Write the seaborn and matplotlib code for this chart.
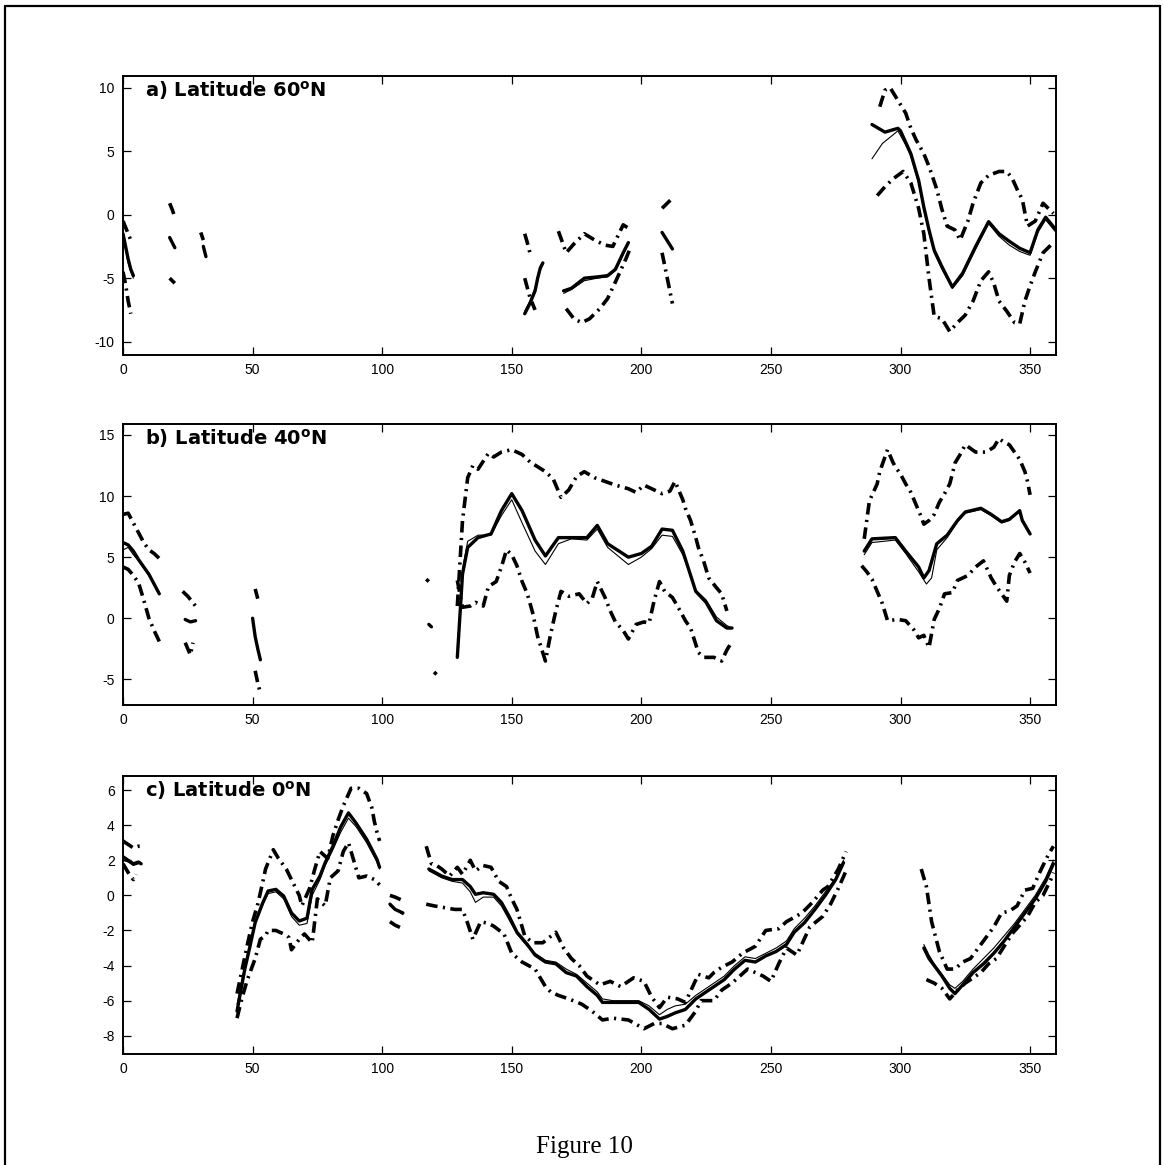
import numpy as np
import pandas as pd
import matplotlib
matplotlib.use("Agg")
import matplotlib.pyplot as plt
from matplotlib.lines import Line2D
import seaborn as sns

nan = np.nan

# ---------------- Panel a) 60N ----------------
A_MAIN_LON = [0, 1, 2, 3, 4, nan, 18, 20, nan, 31, 32, nan, 155, 157, 159, 160, 161, 162, nan,
              170, 173, 178, 183, 187, 190, 193, 195, nan, 208, 212, nan,
              289, 294, 299, 300, 304, 307, 309, 311, 313, 316, 320, 324, 329, 334, 338, 342, 346, 350, 353, 356, 360]
A_MAIN = [-1.5, -2.5, -3.5, -4.3, -4.8, nan, -1.8, -2.6, nan, -2.5, -3.3, nan, -7.8, -7.0, -6.0, -5.0, -4.2, -3.8, nan,
          -6.0, -5.8, -5.0, -4.9, -4.8, -4.3, -3.0, -2.2, nan, -1.4, -2.7, nan,
          7.1, 6.5, 6.8, 6.6, 4.8, 2.7, 0.6, -1.2, -2.8, -4.1, -5.7, -4.6, -2.5, -0.55, -1.5, -2.1, -2.65, -3.0, -1.2, -0.2, -1.2]
A_THIN_LON = [0, 1, 2, 3, 4, nan, 155, 157, 159, 161, 162, nan,
              170, 173, 178, 183, 187, 190, 193, 195, nan,
              289, 291, 293, 296, 299, 302, 304, 307, 309, 311, 313, 316, 320, 324, 329, 334, 338, 342, 346, 350, 353, 356, 360]
A_THIN = [-1.8, -2.8, -3.8, -4.5, -5.0, nan, -7.6, -6.8, -5.8, -4.4, -3.9, nan,
          -6.2, -5.9, -5.2, -5.0, -4.9, -4.4, -3.1, -2.3, nan,
          4.4, 5.0, 5.6, 6.1, 6.6, 5.5, 4.6, 2.5, 0.4, -1.4, -3.0, -4.3, -5.8, -4.8, -2.7, -0.7, -1.7, -2.4, -2.9, -3.2, -1.4, -0.4, -1.4]
A_UP_LON = [0, 1, 2, 3, nan, 18, 19, 20, nan, 30, 31, nan, 155, 156, 157, nan,
            168, 171, 174, 178, 182, 186, 189, 193, 196, nan, 208, 212, nan,
            292, 294, 296, 299, 302, 304, 306, 309, 311, 314, 316, 318, 321, 323, 326, 328, 331, 334, 338, 341, 343, 345, 347, 349, 352, 355, 359]
A_UP = [-0.5, -1.0, -1.5, -2.0, nan, 0.9, 0.4, -0.2, nan, -1.4, -2.0, nan, -1.5, -2.2, -3.0, nan,
        -1.3, -3.0, -2.3, -1.5, -2.0, -2.4, -2.5, -0.8, -1.2, nan, 0.5, 1.3, nan,
        8.5, 9.8, 10.0, 9.0, 8.0, 6.8, 5.9, 4.8, 3.8, 2.0, 0.4, -0.9, -1.2, -2.0, -0.5, 0.9, 2.5, 3.1, 3.4, 3.4, 2.9, 2.0, 1.2, -0.9, -0.5, 0.9, 0.1]
A_LO_LON = [0, 1, 2, 3, nan, 18, 20, nan, 155, 157, 159, nan,
            171, 174, 177, 180, 184, 187, 190, 194, 196, nan, 208, 212, nan,
            291, 294, 297, 301, 304, 307, 309, 311, 313, 316, 319, 322, 325, 328, 331, 334, 336, 338, 341, 344, 346, 348, 350, 352, 355, 359]
A_LO = [-4.5, -5.5, -6.8, -7.8, nan, -5.0, -5.4, nan, -5.0, -6.5, -7.5, nan,
        -7.4, -8.2, -8.5, -8.2, -7.4, -6.6, -5.3, -3.5, -2.5, nan, -3.0, -7.0, nan,
        1.5, 2.2, 2.8, 3.4, 2.5, 0.5, -1.5, -5.0, -8.0, -8.2, -9.2, -8.5, -7.9, -6.8, -5.2, -4.5, -5.4, -6.8, -7.6, -8.5, -8.6, -6.8, -5.6, -4.5, -3.0, -2.2]

# ---------------- Panel b) 40N ----------------
B_MAIN_LON = [0, 2, 4, 6, 8, 10, 12, 14, nan, 24, 26, 28, nan, 50, 51, 52, 53, nan, 118, 119, nan,
              129, 131, 133, 137, 142, 146, 150, 154, 159, 163, 168, 173, 179, 183, 187, 195, 200, 204, 208, 212, 216, 221, 225, 229, 233, 235, nan,
              286, 289, 298, 302, 307, 309, 311, 314, 318, 322, 325, 331, 335, 339, 342, 346, 347, 350]
B_MAIN = [6.2, 6.0, 5.5, 4.8, 4.2, 3.6, 2.8, 2.0, nan, -0.1, -0.3, -0.2, nan, 0.0, -1.5, -2.5, -3.4, nan, -0.5, -0.7, nan,
          -3.2, 3.6, 5.8, 6.6, 6.9, 8.8, 10.2, 8.8, 6.4, 5.1, 6.6, 6.6, 6.6, 7.6, 6.1, 5.0, 5.3, 5.9, 7.3, 7.2, 5.5, 2.2, 1.3, -0.2, -0.8, -0.8, nan,
          5.5, 6.5, 6.6, 5.5, 4.2, 3.3, 3.9, 6.1, 6.8, 8.0, 8.7, 9.0, 8.5, 7.9, 8.1, 8.8, 8.0, 6.9]
B_THIN_LON = [0, 2, 4, 6, 8, 10, 12, 14, nan,
              129, 131, 133, 137, 142, 146, 150, 154, 159, 163, 168, 173, 179, 183, 187, 195, 200, 204, 208, 212, 216, 221, 225, 229, 233, 235, nan,
              286, 289, 298, 302, 307, 310, 312, 314, 318, 322, 325, 331, 335, 339, 342, 346, 347, 350]
B_THIN = [5.6, 5.8, 5.2, 4.7, 4.1, 3.5, 2.8, 2.1, nan,
          -2.5, 4.0, 6.3, 6.8, 6.8, 8.4, 9.7, 7.8, 5.5, 4.4, 6.1, 6.5, 6.4, 7.3, 5.8, 4.4, 5.0, 5.7, 6.8, 6.7, 5.2, 2.3, 1.5, 0.1, -0.6, -0.8, nan,
          5.2, 6.2, 6.4, 5.3, 3.8, 2.8, 3.3, 5.6, 6.6, 7.9, 8.6, 8.9, 8.4, 7.8, 8.0, 8.9, 8.1, 7.0]
B_UP_LON = [0, 2, 4, 6, 8, 10, 12, 14, nan, 23, 25, 28, nan, 51, 52, nan, 117, 118, nan,
            129, 131, 133, 135, 137, 141, 143, 146, 150, 154, 157, 160, 163, 166, 169, 172, 175, 178, 182, 186, 190, 195, 198, 201, 205, 208, 211, 213, 216, 217, 219, 221, 222, 224, 226, 229, 231, 233, nan,
            286, 288, 291, 292, 295, 297, 298, 300, 302, 304, 306, 308, 309, 311, 313, 315, 317, 319, 320, 321, 323, 325, 327, 329, 331, 333, 336, 338, 340, 342, 344, 346, 348, 349, 350]
B_UP = [8.5, 8.6, 7.8, 7.0, 6.2, 5.6, 5.3, 4.9, nan, 2.2, 1.8, 1.0, nan, 2.4, 1.6, nan, 3.2, 3.0, nan,
        1.0, 8.0, 11.5, 12.5, 12.2, 13.5, 13.2, 13.6, 13.8, 13.4, 12.8, 12.4, 12.0, 11.4, 9.9, 10.5, 11.6, 12.0, 11.5, 11.2, 10.9, 10.6, 10.3, 10.9, 10.5, 10.2, 10.4, 11.2, 9.7, 9.0, 8.0, 6.6, 5.8, 4.7, 3.3, 2.5, 2.0, 0.6, nan,
        6.5, 9.6, 11.0, 12.0, 13.8, 12.8, 12.4, 11.8, 11.0, 10.3, 9.3, 8.3, 7.7, 8.0, 8.5, 9.5, 10.2, 11.0, 11.8, 12.7, 13.4, 14.2, 13.9, 13.6, 13.6, 13.6, 14.0, 14.7, 14.4, 14.2, 13.6, 13.0, 12.0, 11.2, 10.1]
B_LO_LON = [0, 2, 4, 6, 8, 10, 12, 14, nan, 24, 26, 27, nan, 51, 52, 53, nan, 120, 121, nan,
            129, 130, 131, 134, 136, 139, 141, 144, 146, 148, 150, 152, 154, 156, 158, 160, 163, 165, 167, 169, 172, 176, 179, 181, 183, 186, 188, 190, 193, 195, 198, 201, 203, 205, 207, 209, 212, 215, 217, 219, 222, 224, 228, 231, 233, 235, nan,
            285, 287, 289, 291, 293, 295, 299, 302, 305, 307, 309, 311, 313, 315, 317, 320, 322, 324, 326, 329, 332, 335, 337, 339, 341, 342, 344, 346, 348, 350]
B_LO = [4.2, 4.0, 3.5, 2.9, 1.5, 0.0, -1.0, -1.9, nan, -2.0, -3.0, -2.0, nan, -4.3, -5.3, -6.1, nan, -4.4, -4.6, nan,
        3.1, 2.0, 0.9, 1.0, 1.3, 1.0, 2.6, 3.0, 4.2, 5.6, 5.2, 4.3, 3.0, 2.0, 0.5, -1.5, -3.5, -1.3, 0.6, 2.2, 1.8, 2.0, 1.2, 1.6, 3.0, 1.7, 0.6, -0.3, -1.0, -1.7, -0.5, -0.3, -0.4, 1.5, 3.0, 2.2, 1.7, 0.6, -0.2, -0.8, -2.8, -3.2, -3.2, -3.5, -2.6, -1.9, nan,
        4.3, 3.8, 3.2, 2.2, 1.2, -0.2, -0.1, -0.2, -0.9, -1.6, -1.4, -2.4, -0.1, 0.8, 2.0, 2.1, 3.1, 3.3, 3.5, 4.2, 4.7, 3.3, 2.6, 2.0, 1.4, 3.5, 4.6, 5.3, 4.6, 3.7]

# ---------------- Panel c) 0N ----------------
C_MAIN_LON = [0, 2, 4, 6, 7, nan,
              44, 45, 47, 49, 51, 54, 56, 59, 62, 65, 68, 71, 73, 76, 78, 81, 84, 87, 90, 94, 98, 99, nan,
              103, 105, 108, nan,
              118, 123, 127, 131, 134, 136, 139, 143, 146, 149, 152, 156, 159, 163, 167, 171, 175, 179, 183, 185,
              189, 194, 199, 203, 207, 210, 213, 217, 221, 225, 228, 232, 236, 240, 244, 248, 252, 256, 259, 263, 267, 271, 275, 278, nan,
              309, 311, 313, 316, 319, 321, 324, 328, 332, 336, 340, 344, 348, 352, 356, 359]
C_MAIN = [2.2, 2.0, 1.8, 1.9, 1.8, nan,
          -6.6, -5.8, -4.2, -2.9, -1.55, -0.4, 0.25, 0.34, -0.04, -1.0, -1.46, -1.3, 0.34, 1.1, 1.86, 2.8, 3.9, 4.7, 4.1, 3.2, 2.05, 1.6, nan,
          -0.5, -0.8, -1.0, nan,
          1.5, 1.1, 0.9, 0.9, 0.5, 0.06, 0.15, 0.06, -0.4, -1.2, -2.1, -2.8, -3.4, -3.8, -3.9, -4.4, -4.6, -5.2, -5.7, -6.1,
          -6.1, -6.1, -6.1, -6.5, -7.05, -6.9, -6.7, -6.5, -5.9, -5.5, -5.2, -4.8, -4.2, -3.7, -3.8, -3.45, -3.2, -2.8, -2.1, -1.55, -0.8, 0.0, 0.9, 1.86, nan,
          -3.0, -3.6, -4.0, -4.6, -5.3, -5.6, -5.1, -4.4, -3.9, -3.3, -2.6, -1.8, -1.0, -0.2, 0.8, 1.8]
C_THIN_LON = C_MAIN_LON
C_THIN = [2.0, 1.9, 1.7, 1.8, 1.8, nan,
          -6.2, -5.5, -4.0, -2.8, -1.6, -0.5, 0.1, 0.2, -0.2, -1.2, -1.7, -1.6, 0.0, 0.9, 1.7, 2.6, 3.6, 4.4, 3.9, 3.0, 1.9, 1.5, nan,
          -0.6, -0.8, -1.1, nan,
          1.4, 1.0, 0.8, 0.7, 0.2, -0.4, -0.1, -0.1, -0.6, -1.4, -2.2, -2.9, -3.3, -3.7, -3.8, -4.2, -4.5, -5.0, -5.5, -5.9,
          -6.0, -6.0, -6.0, -6.3, -6.8, -6.5, -6.3, -6.2, -5.7, -5.3, -5.0, -4.6, -4.0, -3.5, -3.6, -3.3, -3.0, -2.6, -1.9, -1.3, -0.6, 0.2, 1.0, 2.0, nan,
          -2.8, -3.4, -3.9, -4.5, -5.1, -5.3, -4.9, -4.2, -3.6, -3.0, -2.3, -1.6, -0.8, 0.0, 1.0, 2.0]
C_UP_LON = [0, 2, 4, 6, 7, nan,
            44, 46, 48, 50, 52, 54, 55, 58, 60, 63, 65, 68, 69, 72, 74, 76, 79, 81, 83, 85, 88, 91, 94, 96, 97, 98, 99, nan,
            103, 105, 108, nan,
            117, 119, 121, 123, 126, 129, 131, 134, 136, 139, 142, 145, 148, 150, 152, 155, 158, 162, 167, 170, 173, 176, 179, 184, 188,
            192, 197, 201, 204, 207, 210, 214, 217, 222, 226, 228, 231, 235, 239, 244, 248, 253, 256, 262, 266, 270, 272, 276, 279, nan,
            308, 310, 312, 315, 318, 321, 324, 327, 330, 333, 336, 339, 342, 345, 348, 351, 354, 357, 359]
C_UP = [3.1, 2.9, 2.7, 2.8, 2.8, nan,
        -5.6, -4.2, -2.8, -1.5, -0.5, 0.8, 1.5, 2.6, 2.1, 1.5, 0.9, 0.0, -0.6, 0.4, 1.5, 2.5, 2.1, 3.4, 4.3, 5.1, 6.1, 6.1, 5.8, 5.0, 4.2, 3.6, 3.1, nan,
        0.0, -0.1, -0.3, nan,
        2.8, 1.8, 1.7, 1.5, 1.1, 1.6, 1.2, 2.0, 1.4, 1.7, 1.6, 0.8, 0.5, -0.2, -0.8, -2.3, -2.7, -2.7, -2.1, -3.0, -3.6, -4.0, -4.6, -5.1, -4.9,
        -5.2, -4.7, -4.9, -5.8, -6.4, -5.8, -5.9, -6.1, -4.5, -4.7, -4.4, -4.1, -3.8, -3.3, -2.9, -2.0, -1.9, -1.5, -1.0, -0.4, 0.3, 0.5, 1.5, 2.5, nan,
        1.5, 0.5, -1.5, -3.2, -4.2, -4.2, -3.8, -3.6, -3.0, -2.4, -1.8, -1.0, -0.9, -0.6, 0.3, 0.4, 1.4, 2.3, 2.8]
C_LO_LON = [0, 2, 4, 5, nan,
            44, 46, 48, 51, 53, 55, 56, 59, 62, 64, 65, 68, 70, 73, 75, 78, 80, 83, 85, 87, 89, 91, 94, 97, 99, nan,
            103, 105, 108, nan,
            117, 120, 124, 128, 131, 133, 135, 138, 141, 143, 147, 150, 154, 159, 163, 165, 168, 172, 177, 181, 185, 189, 195,
            201, 205, 208, 212, 217, 221, 223, 228, 231, 235, 241, 244, 247, 250, 253, 256, 260, 265, 270, 273, 276, 279, nan,
            310, 313, 316, 319, 322, 325, 328, 331, 334, 337, 340, 343, 346, 349, 352, 355, 358, 359]
C_LO = [1.8, 1.3, 0.9, 1.2, nan,
        -7.0, -5.8, -4.8, -3.6, -2.5, -2.3, -2.0, -2.0, -2.2, -2.4, -3.1, -2.5, -2.2, -2.7, -0.2, -0.6, 1.0, 1.4, 2.5, 3.0, 2.0, 1.0, 1.1, 0.9, 0.6, nan,
        -1.5, -1.7, -1.9, nan,
        -0.5, -0.6, -0.7, -0.8, -0.8, -1.6, -2.5, -1.5, -1.6, -1.75, -2.2, -3.3, -3.8, -4.2, -5.2, -5.5, -5.7, -5.9, -6.2, -6.6, -7.1, -7.0, -7.1,
        -7.6, -7.3, -7.3, -7.6, -7.4, -6.6, -6.0, -6.0, -5.4, -5.0, -4.2, -4.4, -4.6, -4.9, -3.9, -3.0, -3.4, -1.8, -1.2, -0.5, 0.4, 1.4, nan,
        -4.8, -5.0, -5.3, -5.9, -5.4, -5.0, -4.7, -4.4, -3.9, -3.6, -2.9, -2.2, -1.7, -1.2, -0.4, 0.0, 0.9, 1.3]

TITLES = ["a) Latitude 60$^\\mathbf{o}$N", "b) Latitude 40$^\\mathbf{o}$N", "c) Latitude 0$^\\mathbf{o}$N"]
YTICKS = [[-10, -5, 0, 5, 10], [-5, 0, 5, 10, 15], [-8, -6, -4, -2, 0, 2, 4, 6]]
YLIMS = [(-11.05, 10.92), (-7.1, 15.9), (-9.04, 6.83)]
XTICKS = [0, 50, 100, 150, 200, 250, 300, 350]
CAPTION = "Figure 10"


def to_frame(lon, val, name):
    rows = []
    seg = 0
    for x, y in zip(lon, val):
        if np.isnan(x) or np.isnan(y):
            seg += 1
            continue
        rows.append((x, y, f"{name}{seg}"))
    return pd.DataFrame(rows, columns=["lon", "val", "unit"])


sns.set_theme(style="ticks")
plt.rcParams["font.family"] = ["DejaVu Sans"]
plt.rcParams["axes.unicode_minus"] = False

W, H = 1163, 1165
fig = plt.figure(figsize=(W / 100, H / 100), dpi=100)
fig.patch.set_facecolor("white")

L, R = 123, 1056
boxes = [(76, 355), (424, 705), (775.5, 1054)]

panels = [
    (A_MAIN_LON, A_MAIN, A_THIN_LON, A_THIN, A_UP_LON, A_UP, A_LO_LON, A_LO),
    (B_MAIN_LON, B_MAIN, B_THIN_LON, B_THIN, B_UP_LON, B_UP, B_LO_LON, B_LO),
    (C_MAIN_LON, C_MAIN, C_THIN_LON, C_THIN, C_UP_LON, C_UP, C_LO_LON, C_LO),
]

dashdot = (0, (3.2, 1.5, 0.6, 1.5))

for i, (ml, mv, tl, tv, ul, uv, ll, lv) in enumerate(panels):
    top, bot = boxes[i]
    ax = fig.add_axes([L / W, 1 - bot / H, (R - L) / W, (bot - top) / H])
    ax.set_facecolor("white")
    for lon, val, name, kw in [
        (ul, uv, "up", dict(lw=2.6, linestyle=dashdot)),
        (ll, lv, "lo", dict(lw=2.6, linestyle=dashdot)),
        (tl, tv, "thin", dict(lw=0.8, linestyle="-")),
        (ml, mv, "main", dict(lw=2.4, linestyle="-")),
    ]:
        df = to_frame(lon, val, name)
        sns.lineplot(data=df, x="lon", y="val", units="unit", estimator=None, sort=False,
                     color="black", legend=False, ax=ax, dash_capstyle="butt", **kw)
    ax.set_xlim(0, 360)
    ax.set_ylim(*YLIMS[i])
    ax.set_xticks(XTICKS)
    ax.set_yticks(YTICKS[i])
    ax.set_xlabel("")
    ax.set_ylabel("")
    ax.tick_params(direction="in", top=True, right=True, length=6, width=0.9,
                   labelsize=10, pad=6, colors="black")
    for lab in ax.get_xticklabels() + ax.get_yticklabels():
        lab.set_fontfamily(["Liberation Sans", "DejaVu Sans"])
    for sp in ax.spines.values():
        sp.set_visible(True)
        sp.set_linewidth(1.4)
        sp.set_color("black")
    ax.annotate(TITLES[i], xy=(0, 1), xycoords="axes fraction",
                xytext=(22 * 0.72, -21 * 0.72), textcoords="offset points",
                ha="left", va="baseline", fontsize=14, fontweight="bold",
                fontfamily="DejaVu Sans", color="black")

fig.text(584 / W, 1 - 1147 / H, CAPTION, ha="center", va="center",
         fontsize=18, fontfamily=["Liberation Serif", "DejaVu Serif"], color="black")

# page border
bx0, by0, bx1 = 5 / W, 1 - 6 / H, 1160 / W
for xs, ys in [([bx0, bx0], [0, by0]), ([bx0, bx1], [by0, by0]), ([bx1, bx1], [0, by0])]:
    fig.add_artist(Line2D(xs, ys, transform=fig.transFigure, color="black", lw=1.6))

fig.savefig("out.png", dpi=100, facecolor="white")
